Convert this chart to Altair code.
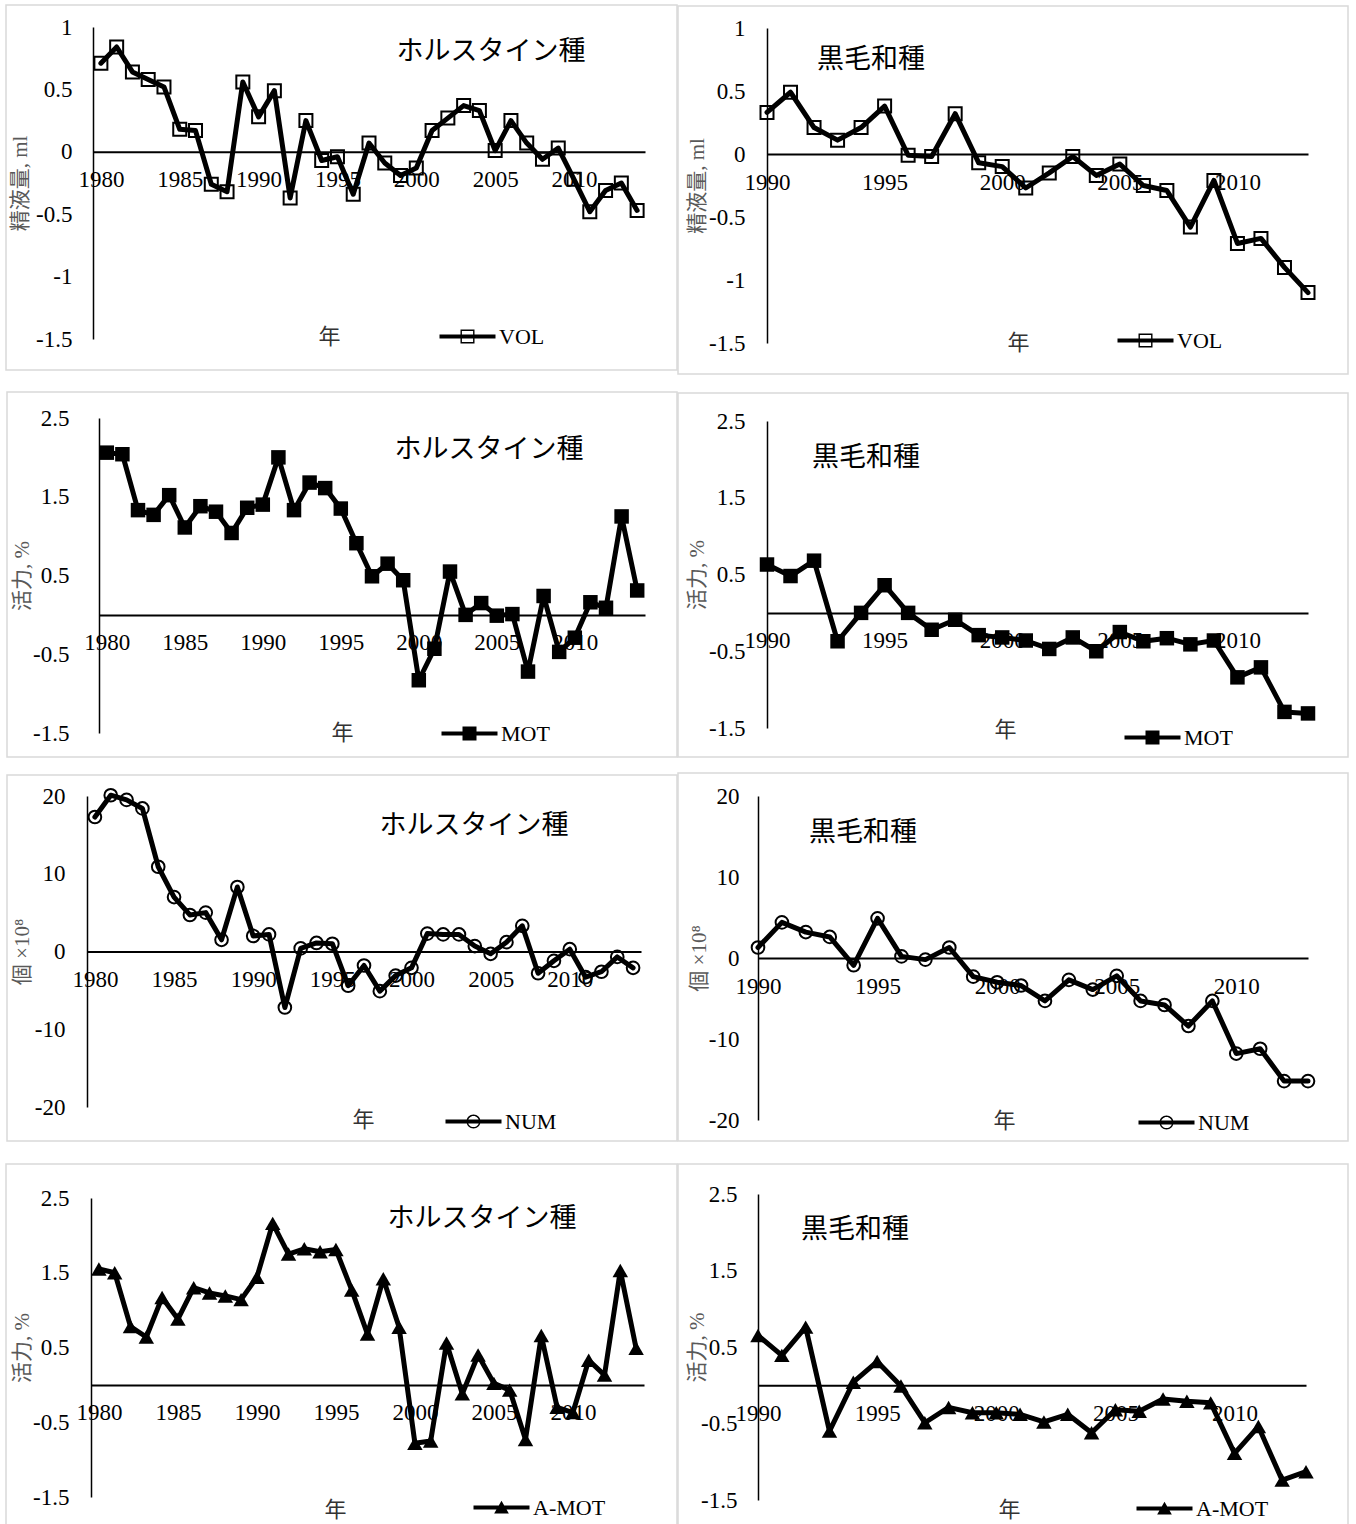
import altair as alt
import pandas as pd

# ---------------------------------------------------------------- data
years_hol = list(range(1980, 2015))   # ホルスタイン種
years_wag = list(range(1990, 2014))   # 黒毛和種

vol_hol = [0.71, 0.84, 0.64, 0.58, 0.52, 0.18, 0.17, -0.26, -0.32, 0.56,
           0.28, 0.49, -0.37, 0.25, -0.07, -0.04, -0.34, 0.07, -0.09, -0.19,
           -0.13, 0.17, 0.27, 0.37, 0.33, 0.01, 0.25, 0.07, -0.06, 0.03,
           -0.22, -0.48, -0.31, -0.25, -0.47]
vol_wag = [0.33, 0.49, 0.21, 0.11, 0.21, 0.38, -0.01, -0.02, 0.32, -0.07,
           -0.10, -0.27, -0.15, -0.02, -0.17, -0.08, -0.25, -0.29, -0.58, -0.21,
           -0.71, -0.67, -0.90, -1.10]
mot_hol = [2.06, 2.04, 1.33, 1.27, 1.52, 1.11, 1.38, 1.31, 1.04, 1.36,
           1.40, 2.00, 1.33, 1.68, 1.61, 1.35, 0.91, 0.49, 0.65, 0.44,
           -0.83, -0.43, 0.55, 0.00, 0.15, -0.01, 0.01, -0.72, 0.24, -0.47,
           -0.29, 0.16, 0.09, 1.25, 0.31]
mot_wag = [0.63, 0.48, 0.68, -0.37, 0.00, 0.36, 0.00, -0.22, -0.09, -0.29,
           -0.32, -0.36, -0.47, -0.32, -0.50, -0.25, -0.37, -0.33, -0.41, -0.36,
           -0.84, -0.71, -1.29, -1.31]
num_hol = [17.3, 20.1, 19.5, 18.4, 10.9, 7.0, 4.7, 5.0, 1.5, 8.3,
           2.0, 2.2, -7.2, 0.4, 1.1, 1.0, -4.4, -1.8, -5.1, -3.1,
           -2.1, 2.3, 2.2, 2.2, 0.7, -0.3, 1.2, 3.3, -2.8, -1.2,
           0.3, -3.3, -2.6, -0.7, -2.1]
num_wag = [1.3, 4.4, 3.2, 2.6, -0.9, 4.9, 0.2, -0.2, 1.3, -2.3,
           -3.0, -3.4, -5.3, -2.7, -3.9, -2.2, -5.3, -5.8, -8.4, -5.3,
           -11.8, -11.2, -15.2, -15.2]
amot_hol = [1.55, 1.50, 0.78, 0.64, 1.17, 0.88, 1.30, 1.23, 1.19, 1.14,
            1.44, 2.16, 1.75, 1.82, 1.78, 1.81, 1.27, 0.68, 1.42, 0.77,
            -0.78, -0.75, 0.56, -0.12, 0.40, 0.02, -0.07, -0.73, 0.66, -0.30,
            -0.37, 0.33, 0.13, 1.53, 0.49]
amot_wag = [0.65, 0.39, 0.76, -0.60, 0.04, 0.31, -0.01, -0.49, -0.29, -0.36,
            -0.36, -0.38, -0.48, -0.38, -0.62, -0.32, -0.34, -0.18, -0.21, -0.23,
            -0.89, -0.54, -1.24, -1.13]

hol_ticks = [1980, 1985, 1990, 1995, 2000, 2005, 2010]
wag_ticks = [1990, 1995, 2000, 2005, 2010]
vol_ticks = [1, 0.5, 0, -0.5, -1, -1.5]
mot_ticks = [2.5, 1.5, 0.5, -0.5, -1.5]
num_ticks = [20, 10, 0, -10, -20]

breeds = ["ホルスタイン種", "黒毛和種"]
y_titles = {"VOL": "精液量, ml", "MOT": "活力, %", "NUM": "個 ×10⁸", "A-MOT": "活力, %"}

# ---------------------------------------------------------------- styling
W, H = 1356, 1524
SERIF = "Liberation Serif"
SERIF_JP = "Liberation Serif, Noto Sans CJK JP"
SANS_JP = "Noto Sans CJK JP"
BORDER = "#d9d9d9"
LEG_ENTRY = 23          # height of one legend entry in the rendered legend

# legend glyphs: a line segment with the series marker in the middle
BAR = "M-4,-0.3H4V0.3H-4Z"
SYM_OPEN_SQUARE = BAR + "M-1,-1H1V1H-1ZM-0.8,-0.8V0.8H0.8V-0.8Z"
SYM_FILLED_SQUARE = BAR + "M-1,-1H1V1H-1Z"
SYM_OPEN_CIRCLE = (BAR + "M1,0A1,1 0 1,1 -1,0A1,1 0 1,1 1,0Z"
                   + "M0.8,0A0.8,0.8 0 1,0 -0.8,0A0.8,0.8 0 1,0 0.8,0Z")
SYM_FILLED_TRIANGLE = BAR + "M0,-0.95L1.05,0.85H-1.05Z"

MARKERS = {
    "VOL": dict(mark=dict(shape="square", filled=False, size=169, strokeWidth=2), sym=SYM_OPEN_SQUARE),
    "MOT": dict(mark=dict(shape="square", filled=True, size=210), sym=SYM_FILLED_SQUARE),
    "NUM": dict(mark=dict(shape="circle", filled=False, size=160, strokeWidth=2), sym=SYM_OPEN_CIRCLE),
    "A-MOT": dict(mark=dict(shape="triangle-up", filled=True, size=240), sym=SYM_FILLED_TRIANGLE),
}

# plot box of each panel in page pixels
LAYOUT = [
    dict(x0=93, x1=645, y0=27, y1=339, pad=21, ytx=20, title=(491, 52), nen=(329, 336), leg=(468, 337), box=(6, 5, 677, 370)),
    dict(x0=767, x1=1308, y0=28, y1=343, pad=22, ytx=697, title=(871, 60), nen=(1018, 342), leg=(1146, 341), box=(678, 6, 1348, 374)),
    dict(x0=99, x1=645, y0=418, y1=733, pad=30, ytx=22, title=(489, 450), nen=(342, 732), leg=(470, 734), box=(7, 392, 677, 757)),
    dict(x0=767, x1=1308, y0=421, y1=728, pad=22, ytx=697, title=(866, 458), nen=(1005, 729), leg=(1153, 738), box=(678, 393, 1348, 757)),
    dict(x0=87, x1=641, y0=796, y1=1107, pad=22, ytx=22, title=(474, 826), nen=(363, 1119), leg=(474, 1122), box=(7, 775, 677, 1141)),
    dict(x0=758, x1=1308, y0=796, y1=1120, pad=19, ytx=699, title=(863, 833), nen=(1004, 1120), leg=(1167, 1123), box=(678, 773, 1348, 1141)),
    dict(x0=91, x1=644, y0=1198, y1=1497, pad=22, ytx=22, title=(482, 1219), nen=(335, 1509), leg=(502, 1508), box=(6, 1164, 677, 1530)),
    dict(x0=758, x1=1306, y0=1194, y1=1500, pad=21, ytx=697, title=(855, 1230), nen=(1009, 1509), leg=(1165, 1509), box=(678, 1164, 1348, 1530)),
]

PANELS = [
    (years_hol, vol_hol, "VOL", 0, hol_ticks, vol_ticks, True),
    (years_wag, vol_wag, "VOL", 1, wag_ticks, vol_ticks, False),
    (years_hol, mot_hol, "MOT", 0, hol_ticks, mot_ticks, True),
    (years_wag, mot_wag, "MOT", 1, wag_ticks, mot_ticks, False),
    (years_hol, num_hol, "NUM", 0, hol_ticks, num_ticks, True),
    (years_wag, num_wag, "NUM", 1, wag_ticks, num_ticks, False),
    (years_hol, amot_hol, "A-MOT", 0, hol_ticks, mot_ticks, True),
    (years_wag, amot_wag, "A-MOT", 1, wag_ticks, mot_ticks, False),
]


def panel(years, values, name, breed_idx, xticks, yticks, between, lay):
    df = pd.DataFrame({"year": years, "value": values, "series": name})
    # category-style axis: Holstein points sit between tick marks, Wagyu on them
    half = 0.5 if between else 0.0
    xdom = [years[0] - half, years[-1] + half]
    ydom = [min(yticks), max(yticks)]
    zero_y = lay["y0"] + (ydom[1] - 0) / (ydom[1] - ydom[0]) * (lay["y1"] - lay["y0"])

    x_enc = alt.X(
        "year:Q",
        scale=alt.Scale(domain=xdom, range=[lay["x0"], lay["x1"]], nice=False, zero=False),
        axis=alt.Axis(
            orient="bottom", offset=zero_y - H, values=xticks,
            labelExpr="'' + datum.value", labelFlush=False, labelOverlap=False,
            ticks=False, grid=False, domainColor="black", domainWidth=2,
            labelFont=SERIF, labelFontSize=23, labelColor="black", labelPadding=17,
            title="年", titleFont=SERIF_JP, titleFontSize=22, titleFontWeight="normal",
            titleColor="#333333", titleX=lay["nen"][0], titleY=lay["nen"][1] - zero_y,
            titleAlign="center", titleBaseline="middle",
        ),
    )
    y_enc = alt.Y(
        "value:Q",
        scale=alt.Scale(domain=ydom, range=[lay["y1"], lay["y0"]], nice=False, zero=False),
        axis=alt.Axis(
            orient="left", offset=-lay["x0"], values=yticks,
            labelExpr="'' + datum.value", labelOverlap=False, labelFlush=False,
            ticks=False, grid=False, domainColor="black", domainWidth=1.5,
            labelFont=SERIF, labelFontSize=23, labelColor="black", labelPadding=lay["pad"],
            title=y_titles[name], titleFont=SERIF_JP, titleFontSize=21, titleFontWeight="normal",
            titleColor="#595959", titleAngle=270, titleX=lay["ytx"] - lay["x0"],
            titleY=(lay["y0"] + lay["y1"]) / 2, titleAlign="center", titleBaseline="middle",
        ),
    )
    spec = MARKERS[name]
    lx, ly = lay["leg"]
    half_entry = LEG_ENTRY / 2
    line = alt.Chart(df).mark_line(strokeWidth=5, strokeJoin="round", strokeCap="round").encode(
        x=x_enc, y=y_enc,
        stroke=alt.Stroke(
            "series:N", scale=alt.Scale(range=["black"]),
            legend=alt.Legend(
                orient="none", legendX=lx - half_entry, legendY=ly - half_entry,
                title=None, padding=0,
                symbolType=spec["sym"], symbolSize=196, symbolFillColor="black",
                symbolStrokeWidth=0, symbolOpacity=1,
                labelFont=SERIF, labelFontSize=22, labelColor="black",
                labelOffset=32 - half_entry,
            ),
        ),
    )
    points = alt.Chart(df).mark_point(color="black", opacity=1, **spec["mark"]).encode(x=x_enc, y=y_enc)
    return alt.layer(line, points)


def frame(lay):
    bx0, by0, bx1, by1 = lay["box"]
    return alt.Chart(pd.DataFrame({"k": [0]})).mark_rect(
        filled=False, stroke=BORDER, strokeWidth=1.5
    ).encode(x=alt.value(bx0), x2=alt.value(bx1), y=alt.value(by0), y2=alt.value(by1))


def heading(text, lay):
    tx, ty = lay["title"]
    return alt.Chart(pd.DataFrame({"t": [text]})).mark_text(
        font=SANS_JP, fontSize=27, color="black", align="center", baseline="middle"
    ).encode(x=alt.value(tx), y=alt.value(ty), text="t:N")


layers = []
for (years, values, name, b, xt, yt, between), lay in zip(PANELS, LAYOUT):
    layers.append(frame(lay))
    layers.append(panel(years, values, name, b, xt, yt, between, lay))
    layers.append(heading(breeds[b], lay))

chart = (
    alt.layer(*layers)
    .resolve_scale(x="independent", y="independent", stroke="independent")
    .properties(width=W, height=H, padding=0, autosize=alt.AutoSizeParams(type="none"),
                background="white")
    .configure_view(stroke=None)
)

chart.save("out.html", embed_options={"renderer": "svg", "actions": False})
